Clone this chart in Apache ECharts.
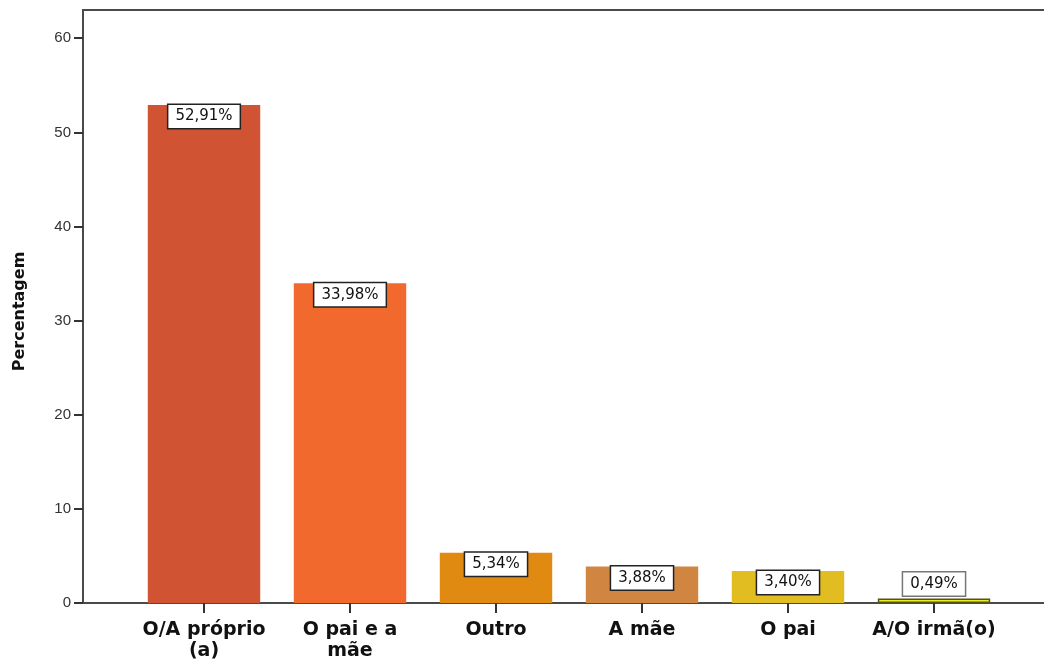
<!DOCTYPE html>
<html>
<head>
<meta charset="utf-8">
<title>Percentagem</title>
<script src="https://cdn.jsdelivr.net/npm/echarts@6/dist/echarts.min.js"></script>
<style>
  html, body { margin: 0; padding: 0; background: #ffffff; }
  #chart { width: 1044px; height: 662px; }
</style>
</head>
<body>
<div id="chart"></div>
<script>
// Categories and percentages
const categories = ['O/A próprio\n(a)', 'O pai e a\nmãe', 'Outro', 'A mãe', 'O pai', 'A/O irmã(o)'];
const percentages = [52.91, 33.98, 5.34, 3.88, 3.40, 0.49];
const barColors = ['#d05434', '#f2692e', '#e08a12', '#d08640', '#e2bd22', '#eeec2c'];
const yTickValues = [0, 10, 20, 30, 40, 50, 60];
const yAxisMax = 63;

const chart = echarts.init(document.getElementById('chart'), null, { renderer: 'canvas' });

const fmtPct = v => v.toFixed(2).replace('.', ',') + '%';

const barData = percentages.map((v, i) => {
  const small = v < 2;
  return {
    value: v,
    itemStyle: {
      color: barColors[i],
      borderColor: small ? '#55551a' : barColors[i],
      borderWidth: small ? 1.5 : 0
    },
    label: small
      ? { position: 'top', distance: 3, borderColor: '#777777' }
      : { position: 'insideTop', distance: 0 }
  };
});

chart.setOption({
  animation: false,
  backgroundColor: '#ffffff',
  grid: [
    // plotting area for the bars
    { left: 131, right: 37, top: 10, bottom: 59, outerBoundsMode: 'none', containLabel: false },
    // surrounding frame (left, top and bottom lines)
    { left: 83, right: -30, top: 10, bottom: 59, outerBoundsMode: 'none', containLabel: false,
      show: true, borderColor: '#4a4a4a', borderWidth: 2, backgroundColor: 'transparent' }
  ],
  xAxis: [
    {
      type: 'category',
      gridIndex: 0,
      data: categories,
      axisLine: { show: false },
      axisTick: { show: true, alignWithLabel: true, length: 10, lineStyle: { color: '#333333', width: 2 } },
      axisLabel: {
        interval: 0,
        margin: 17,
        color: '#111111',
        fontFamily: 'DejaVu Sans',
        fontWeight: 'bold',
        fontSize: 19,
        lineHeight: 21
      },
      splitLine: { show: false }
    },
    { type: 'value', gridIndex: 1, show: false, min: 0, max: 1 }
  ],
  yAxis: [
    {
      type: 'value',
      gridIndex: 0,
      min: 0,
      max: yAxisMax,
      interval: 10,
      offset: 48,
      axisLine: { show: false },
      axisTick: { show: true, length: 9, customValues: yTickValues, lineStyle: { color: '#333333', width: 2 } },
      axisLabel: {
        customValues: yTickValues,
        margin: 12,
        color: '#333333',
        fontFamily: 'Liberation Sans',
        fontSize: 15
      },
      splitLine: { show: false },
      name: 'Percentagem',
      nameLocation: 'middle',
      nameGap: 55,
      nameRotate: 90,
      nameTextStyle: {
        color: '#111111',
        fontFamily: 'DejaVu Sans',
        fontWeight: 'bold',
        fontSize: 16,
        padding: [0, 10, 0, 0]
      }
    },
    { type: 'value', gridIndex: 1, show: false, min: 0, max: 1 }
  ],
  series: [
    {
      type: 'bar',
      xAxisIndex: 0,
      yAxisIndex: 0,
      data: barData,
      barWidth: '77%',
      label: {
        show: true,
        formatter: p => fmtPct(p.value),
        color: '#111111',
        fontFamily: 'DejaVu Sans',
        fontSize: 15,
        lineHeight: 17,
        backgroundColor: '#ffffff',
        borderColor: '#222222',
        borderWidth: 1.5,
        padding: [3, 7]
      }
    }
  ]
});
</script>
</body>
</html>
